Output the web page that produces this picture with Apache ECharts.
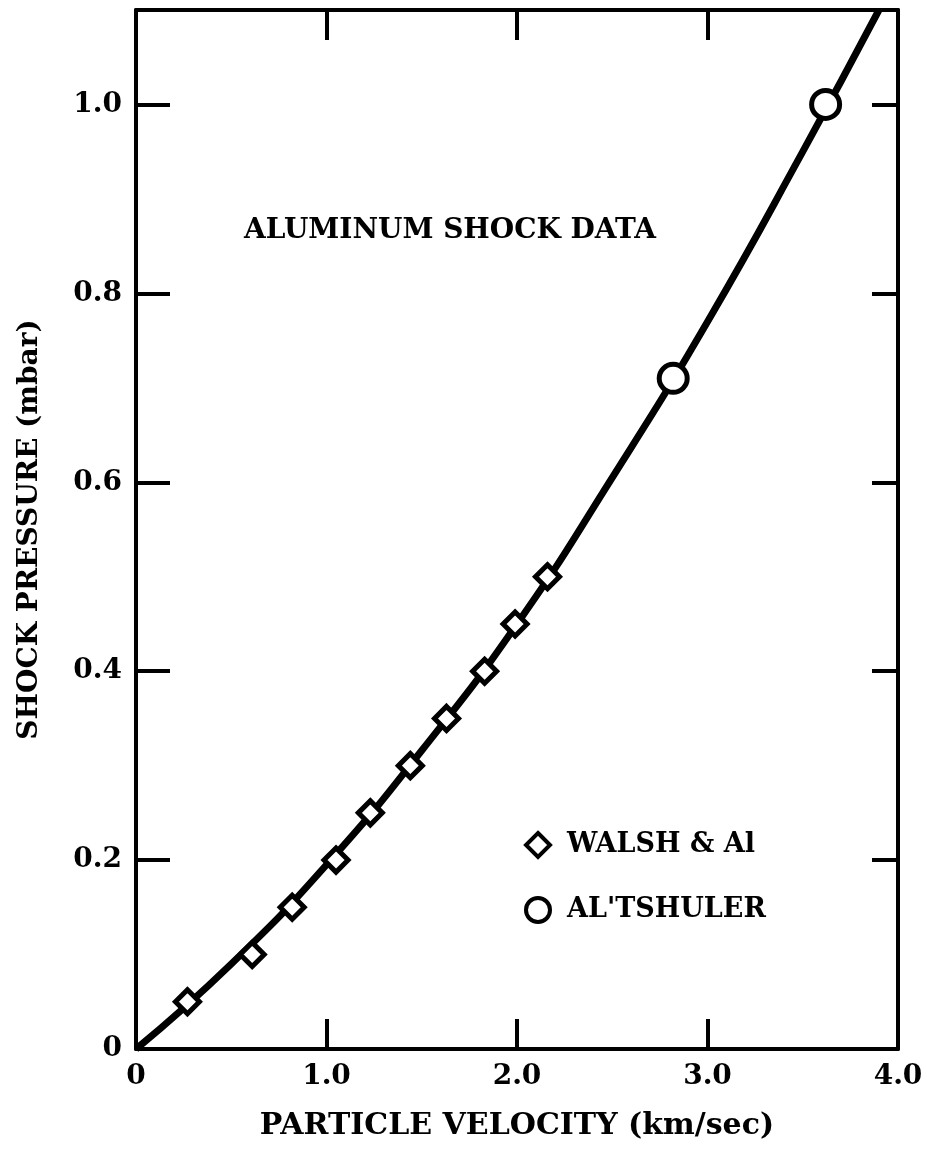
<!DOCTYPE html>
<html>
<head>
<meta charset="utf-8">
<script src="https://cdn.jsdelivr.net/npm/echarts@6/dist/echarts.min.js"></script>
<style>
  html, body { margin: 0; padding: 0; background: #fff; }
  #chart { width: 927px; height: 1154px; }
</style>
</head>
<body>
<div id="chart"></div>
<script>
// 数据
var walshX = [0.27, 0.61, 0.82, 1.05, 1.23, 1.44, 1.63, 1.83, 1.99, 2.16]
var walshY = [0.05, 0.10, 0.15, 0.20, 0.25, 0.30, 0.35, 0.40, 0.45, 0.50]
var altshulerX = [2.82, 3.62]
var altshulerY = [0.71, 1.0]
// solid curve
var curveX = [0, 0.5, 1.0, 1.5, 2.0, 2.5, 3.0, 3.5, 3.9]
var curveY = [0, 0.09, 0.195, 0.316, 0.45, 0.605, 0.77, 0.95, 1.1]

function pairs(xs, ys) {
  var out = []
  for (var i = 0; i < xs.length; i++) out.push([xs[i], ys[i]])
  return out
}

var font = 'DejaVu Serif'
var black = '#000'

var chart = echarts.init(document.getElementById('chart'))
var option = {
  animation: false,
  backgroundColor: '#fff',
  title: {
    text: 'ALUMINUM SHOCK DATA',
    left: 239,
    top: 212,
    textStyle: { fontFamily: font, fontWeight: 'bold', fontSize: 28, color: black }
  },
  legend: {
    orient: 'vertical',
    left: 519,
    top: 826,
    itemWidth: 24,
    itemHeight: 24,
    itemGap: 37,
    data: ['WALSH & Al', "AL'TSHULER"],
    itemStyle: { borderWidth: 4 },
    textStyle: { fontFamily: font, fontWeight: 'bold', fontSize: 27, color: black, padding: [0, 0, 0, 12] }
  },
  grid: { left: 136, right: 29, top: 10, bottom: 105 },
  xAxis: [
    {
      type: 'value',
      min: 0,
      max: 4,
      interval: 1,
      name: 'PARTICLE VELOCITY (km/sec)',
      nameLocation: 'middle',
      nameGap: 62,
      nameTextStyle: { fontFamily: font, fontWeight: 'bold', fontSize: 30, color: black },
      axisLine: { onZero: false, lineStyle: { color: black, width: 4 } },
      axisTick: { inside: true, length: 30, lineStyle: { width: 4 } },
      axisLabel: {
        margin: 14,
        fontFamily: font,
        fontWeight: 'bold',
        fontSize: 28,
        color: black,
        formatter: function(v) { return v === 0 ? '0' : v.toFixed(1) }
      },
      splitLine: { show: false }
    },
    {
      type: 'value',
      position: 'top',
      min: 0,
      max: 4,
      interval: 1,
      axisLine: { onZero: false, lineStyle: { color: black, width: 4 } },
      axisTick: { inside: true, length: 30, lineStyle: { width: 4 } },
      axisLabel: { show: false },
      splitLine: { show: false }
    }
  ],
  yAxis: [
    {
      type: 'value',
      min: 0,
      max: 1.1,
      interval: 0.2,
      name: 'SHOCK PRESSURE (mbar)',
      nameLocation: 'middle',
      nameGap: 92,
      nameTextStyle: { fontFamily: font, fontWeight: 'bold', fontSize: 28, color: black },
      axisLine: { onZero: false, lineStyle: { color: black, width: 4 } },
      axisTick: { inside: true, length: 34, lineStyle: { width: 4 } },
      axisLabel: {
        margin: 14,
        showMaxLabel: false,
        fontFamily: font,
        fontWeight: 'bold',
        fontSize: 28,
        color: black,
        formatter: function(v) { return v === 0 ? '0' : v.toFixed(1) }
      },
      splitLine: { show: false }
    },
    {
      type: 'value',
      position: 'right',
      min: 0,
      max: 1.1,
      interval: 0.2,
      axisLine: { onZero: false, lineStyle: { color: black, width: 4 } },
      axisTick: { inside: true, length: 26, lineStyle: { width: 4 } },
      axisLabel: { show: false },
      splitLine: { show: false }
    }
  ],
  series: [
    {
      name: 'curve',
      type: 'line',
      smooth: true,
      showSymbol: false,
      lineStyle: { color: black, width: 7 },
      data: pairs(curveX, curveY),
      z: 2
    },
    {
      name: 'WALSH & Al',
      type: 'scatter',
      symbol: 'diamond',
      symbolSize: 24,
      itemStyle: { color: '#fff', borderColor: black, borderWidth: 5, opacity: 1 },
      data: pairs(walshX, walshY),
      z: 3
    },
    {
      name: "AL'TSHULER",
      type: 'scatter',
      symbol: 'circle',
      symbolSize: 28,
      itemStyle: { color: '#fff', borderColor: black, borderWidth: 5, opacity: 1 },
      data: pairs(altshulerX, altshulerY),
      z: 3
    }
  ]
}
chart.setOption(option)
</script>
</body>
</html>
